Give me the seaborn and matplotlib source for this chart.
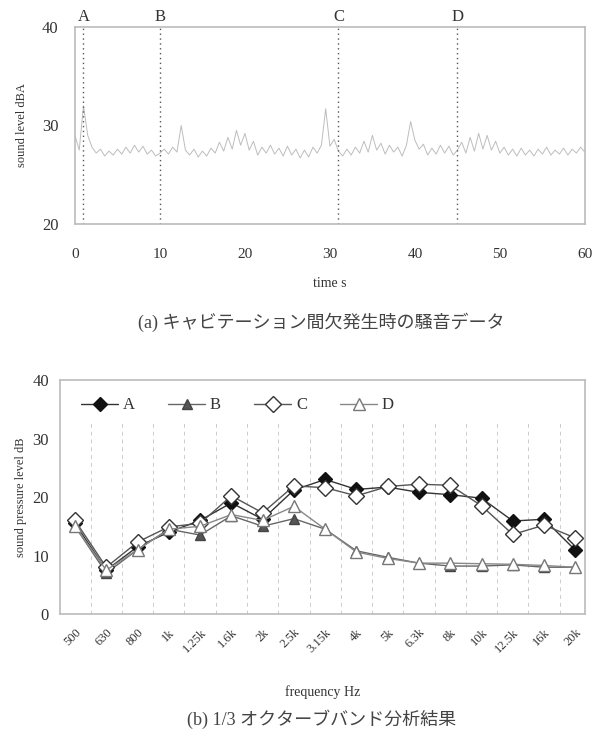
import numpy as np
import pandas as pd
import matplotlib
matplotlib.use("Agg")
import matplotlib.pyplot as plt
import seaborn as sns

# ---------------- data ----------------
time_s = [i * 0.5 for i in range(121)]
level_dba = [
    29.0, 27.5, 32.0, 29.0, 27.8, 27.2, 27.6, 26.9, 27.4, 27.0,
    27.6, 27.1, 27.8, 27.2, 28.0, 27.3, 27.9, 27.1, 27.5, 26.9,
    27.2, 27.6, 27.1, 27.8, 27.3, 30.0, 27.5, 27.0, 27.6, 26.8,
    27.4, 26.9, 27.7, 27.2, 28.3, 27.4, 28.8, 27.6, 29.5, 28.0,
    29.2, 27.5, 28.4, 27.0, 27.8, 27.2, 28.0, 27.1, 27.7, 26.9,
    27.9, 27.0, 27.6, 26.7, 27.5, 26.8, 27.8, 27.2, 28.0, 31.7,
    27.9, 28.6, 27.4, 26.9, 27.6, 27.0, 27.8, 27.2, 28.4, 27.3,
    29.0, 27.5, 28.2, 27.1, 28.0, 27.3, 27.8, 26.9, 28.0, 30.4,
    28.5, 27.6, 28.1, 27.0, 27.7, 27.1, 28.0, 27.2, 27.9, 27.0,
    27.5, 28.3, 27.2, 28.8, 27.4, 29.2, 27.6, 29.0, 27.5, 28.4,
    27.2, 27.8, 27.0, 27.6, 26.9, 27.7, 27.0, 27.5, 26.9, 27.6,
    27.1, 27.8, 27.0, 27.5, 27.1, 27.7, 27.0, 27.6, 27.2, 27.8,
    27.3,
]
event_names = ["A", "B", "C", "D"]
event_times = [1.0, 10.0, 31.0, 45.0]

bands = ["500", "630", "800", "1k", "1.25k", "1.6k", "2k", "2.5k", "3.15k",
         "4k", "5k", "6.3k", "8k", "10k", "12.5k", "16k", "20k"]
spl_A = [15.5, 7.5, 11.5, 14.0, 16.0, 19.0, 16.2, 21.2, 23.0, 21.3, 21.7, 20.8, 20.4, 19.8, 15.9, 16.2, 10.9]
spl_B = [15.0, 7.0, 11.0, 14.5, 13.5, 16.8, 15.0, 16.3, 14.5, 10.8, 9.7, 8.7, 8.2, 8.2, 8.4, 8.0, 8.0]
spl_C = [16.0, 8.0, 12.3, 14.9, 15.5, 20.2, 17.3, 21.9, 21.6, 20.2, 21.8, 22.2, 22.0, 18.5, 13.6, 15.2, 13.0]
spl_D = [15.0, 7.5, 11.0, 14.5, 15.0, 17.0, 16.0, 18.4, 14.5, 10.6, 9.5, 8.7, 8.7, 8.6, 8.5, 8.3, 8.0]

# ---------------- style ----------------
sns.set_theme(style="white")
plt.rcParams["font.family"] = ["Liberation Serif", "Noto Sans CJK JP"]
plt.rcParams["text.color"] = "#333333"
plt.rcParams["axes.labelcolor"] = "#333333"
plt.rcParams["xtick.color"] = "#333333"
plt.rcParams["ytick.color"] = "#333333"

fig = plt.figure(figsize=(5.95, 7.45), dpi=100)

# ---------------- (a) time series ----------------
ax1 = fig.add_axes([0.126, 0.6993, 0.857, 0.2645])
df_t = pd.DataFrame({"t": time_s, "L": level_dba})
sns.lineplot(data=df_t, x="t", y="L", ax=ax1, color="#bdbdbd", linewidth=0.7)
for name, t in zip(event_names, event_times):
    ax1.axvline(t, color="#555555", linestyle=(0, (1, 2.5)), linewidth=1.0)
    ax1.text(t, 40.25, name, ha="center", va="bottom", fontsize=12)
ax1.set_xlim(0, 60)
ax1.set_ylim(20, 40)
ax1.set_xticks([0, 10, 20, 30, 40, 50, 60])
ax1.set_yticks([20, 30, 40])
ax1.tick_params(axis="x", labelsize=11, direction="in", length=3, color="#cccccc", pad=17)
ax1.tick_params(axis="y", labelsize=12, length=0, pad=12)
ax1.set_xlabel("time s", fontsize=10, labelpad=12)
ax1.set_ylabel("sound level dBA", fontsize=9, labelpad=10)
for s in ax1.spines.values():
    s.set_color("#bbbbbb")
    s.set_linewidth(1.2)
fig.text(0.54, 0.567, "(a) キャビテーション間欠発生時の騒音データ", ha="center", va="center",
         fontsize=13, color="#444444")

# ---------------- (b) 1/3 octave ----------------
ax2 = fig.add_axes([0.1008, 0.1758, 0.882, 0.3141])
df_b = pd.DataFrame({"band": bands * 4,
                     "spl": spl_A + spl_B + spl_C + spl_D,
                     "series": ["A"] * 17 + ["B"] * 17 + ["C"] * 17 + ["D"] * 17})
styles = {
    "A": dict(color="#333333", marker="D", markersize=7.5, markerfacecolor="#111111", markeredgecolor="#111111"),
    "B": dict(color="#666666", marker="^", markersize=7, markerfacecolor="#555555", markeredgecolor="#444444"),
    "C": dict(color="#555555", marker="D", markersize=8, markerfacecolor="white", markeredgecolor="#333333"),
    "D": dict(color="#888888", marker="^", markersize=8, markerfacecolor="white", markeredgecolor="#777777"),
}
for name in ["A", "B", "C", "D"]:
    st = styles[name]
    sub = df_b[df_b["series"] == name]
    sns.lineplot(data=sub, x="band", y="spl", ax=ax2, label=name, linewidth=1.0,
                 color=st["color"], marker=st["marker"], markersize=st["markersize"],
                 markerfacecolor=st["markerfacecolor"], markeredgecolor=st["markeredgecolor"],
                 markeredgewidth=1.0, sort=False)
n = len(bands)
ax2.set_xlim(-0.48, n - 1 + 0.3)
ax2.set_ylim(0, 40)
ax2.set_yticks([0, 10, 20, 30, 40])
ax2.set_xticks(range(n))
ax2.set_xticklabels(bands, rotation=45, ha="right", rotation_mode="anchor", fontsize=9)
ax2.set_xticks([k + 0.5 for k in range(n - 1)], minor=True)
ax2.tick_params(axis="x", which="major", length=0, pad=9)
ax2.tick_params(axis="x", which="minor", direction="in", length=3, color="#cccccc")
ax2.tick_params(axis="y", labelsize=12, length=0, pad=8)
ax2.vlines([k + 0.5 for k in range(n - 1)], 0, 33.2, colors="#cccccc",
           linestyles=(0, (4, 4)), linewidth=0.7, zorder=0)
ax2.set_xlabel("frequency Hz", fontsize=10, labelpad=22)
ax2.set_ylabel("sound pressure level dB", fontsize=9, labelpad=4)
for s in ax2.spines.values():
    s.set_color("#bbbbbb")
    s.set_linewidth(1.2)
leg = ax2.legend(loc="upper left", ncol=4, frameon=False, fontsize=12,
                 bbox_to_anchor=(0.012, 0.99), handlelength=2.2, columnspacing=2.0,
                 handletextpad=0.3)
fig.text(0.54, 0.035, "(b) 1/3 オクターブバンド分析結果", ha="center", va="center",
         fontsize=13, color="#444444")

fig.savefig("out.png", dpi=100)
